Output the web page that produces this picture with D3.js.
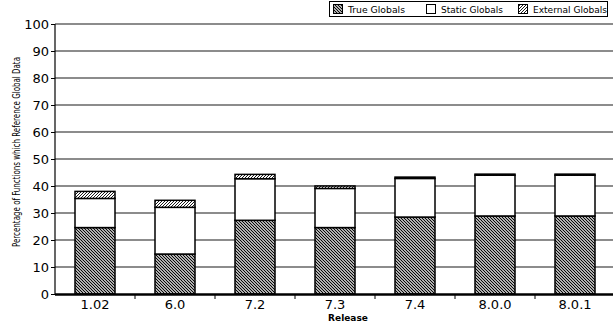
<!DOCTYPE html>
<html><head><meta charset="utf-8">
<script src="https://cdn.jsdelivr.net/npm/d3@7"></script>
<style>body{margin:0;background:#fff}svg{display:block}</style>
</head><body>
<script>
const categories = ["1.02","6.0","7.2","7.3","7.4","8.0.0","8.0.1"];
const trueGlobals = [24.6,14.8,27.3,24.6,28.5,28.9,28.9];
const staticGlobals = [10.8,17.3,15.4,14.5,14.3,15.1,15.1];
const externalGlobals = [2.6,2.6,1.6,0.9,0.5,0.4,0.4];
const seriesNames = ["True Globals","Static Globals","External Globals"];
const yTicks = [0,10,20,30,40,50,60,70,80,90,100];

const W=613,H=325;
const svg=d3.select("body").append("svg").attr("width",W).attr("height",H);
const defs=svg.append("defs");
function hatch(id,dir,sw){
  const p=defs.append("pattern").attr("id",id).attr("patternUnits","userSpaceOnUse")
    .attr("width",3).attr("height",3);
  p.append("rect").attr("width",3).attr("height",3).attr("fill","#fff");
  if(dir>0){
    p.append("path").attr("d","M-1,1 L1,-1 M0,3 L3,0 M2,4 L4,2").attr("stroke","#000").attr("stroke-width",sw);
  } else {
    p.append("path").attr("d","M-1,2 L1,4 M0,0 L3,3 M2,-1 L4,1").attr("stroke","#000").attr("stroke-width",sw);
  }
}
hatch("pTrue",-1,1.2);
hatch("pExt",1,0.9);
const fills=["url(#pTrue)","#fff","url(#pExt)"];

const x=d3.scaleBand().domain(categories).range([55,615]).paddingInner(0.5).paddingOuter(0.25);
const y=d3.scaleLinear().domain([0,100]).range([294,24]);

svg.append("g").selectAll("line").data(yTicks.filter(d=>d>0)).join("line")
  .attr("x1",55).attr("x2",613).attr("y1",d=>y(d)).attr("y2",d=>y(d))
  .attr("stroke","#8c8c8c").attr("stroke-width",2);

const ya=svg.append("g").attr("transform","translate(55,0)")
  .call(d3.axisLeft(y).tickValues(yTicks).tickSize(4).tickPadding(2));
ya.select(".domain").attr("stroke","#000").attr("stroke-width",1.2).attr("d","M0,24V294");
ya.selectAll("text").attr("font-family","DejaVu Sans").attr("font-size",13).attr("fill","#000");

const data=categories.map((c,i)=>({c,v:[trueGlobals[i],staticGlobals[i],externalGlobals[i]]}));
const g=svg.append("g");
data.forEach(d=>{
  let base=0;
  d.v.forEach((v,k)=>{
    g.append("rect").attr("x",x(d.c)).attr("width",x.bandwidth())
      .attr("y",y(base+v)).attr("height",y(base)-y(base+v))
      .attr("fill",fills[k]).attr("stroke","#000").attr("stroke-width",1.5);
    base+=v;
  });
});

const xa=svg.append("g").attr("transform","translate(0,294)")
  .call(d3.axisBottom(x).tickSize(0).tickPadding(6));
xa.select(".domain").remove();
svg.append("line").attr("x1",55).attr("x2",613).attr("y1",294.5).attr("y2",294.5).attr("stroke","#000").attr("stroke-width",2.5);
svg.append("g").selectAll("line").data(categories.slice(1)).join("line")
  .attr("x1",d=>x(d)-x.step()*0.25).attr("x2",d=>x(d)-x.step()*0.25)
  .attr("y1",295).attr("y2",299).attr("stroke","#000");
xa.selectAll("text").attr("font-family","DejaVu Sans").attr("font-size",13).attr("fill","#000").attr("dy","0.71em");

svg.append("text").attr("x",348).attr("y",321).attr("text-anchor","middle")
  .attr("font-family","DejaVu Sans").attr("font-weight","bold").attr("font-size",9).text("Release");
svg.append("text").attr("transform","translate(20,152) rotate(-90)").attr("text-anchor","middle")
  .attr("font-family","Liberation Sans Narrow, DejaVu Sans Condensed, Liberation Sans").attr("font-size",10.5)
  .attr("textLength",190).attr("lengthAdjust","spacingAndGlyphs")
  .text("Percentage of Functions which Reference Global Data");

const lg=svg.append("g");
lg.append("rect").attr("x",329.5).attr("y",1.5).attr("width",278).attr("height",15)
  .attr("fill","#fff").attr("stroke","#000");
const lx=[333,426,518];
const lw=[57,62,74];
seriesNames.forEach((n,i)=>{
  lg.append("rect").attr("x",lx[i]+0.5).attr("y",4.5).attr("width",9).attr("height",9)
    .attr("fill",fills[i]).attr("stroke","#000");
  lg.append("text").attr("x",lx[i]+15).attr("y",12.5).attr("font-family","DejaVu Sans")
    .attr("font-size",9.5).attr("textLength",lw[i]).attr("lengthAdjust","spacingAndGlyphs").text(n);
});
</script>
</body></html>
